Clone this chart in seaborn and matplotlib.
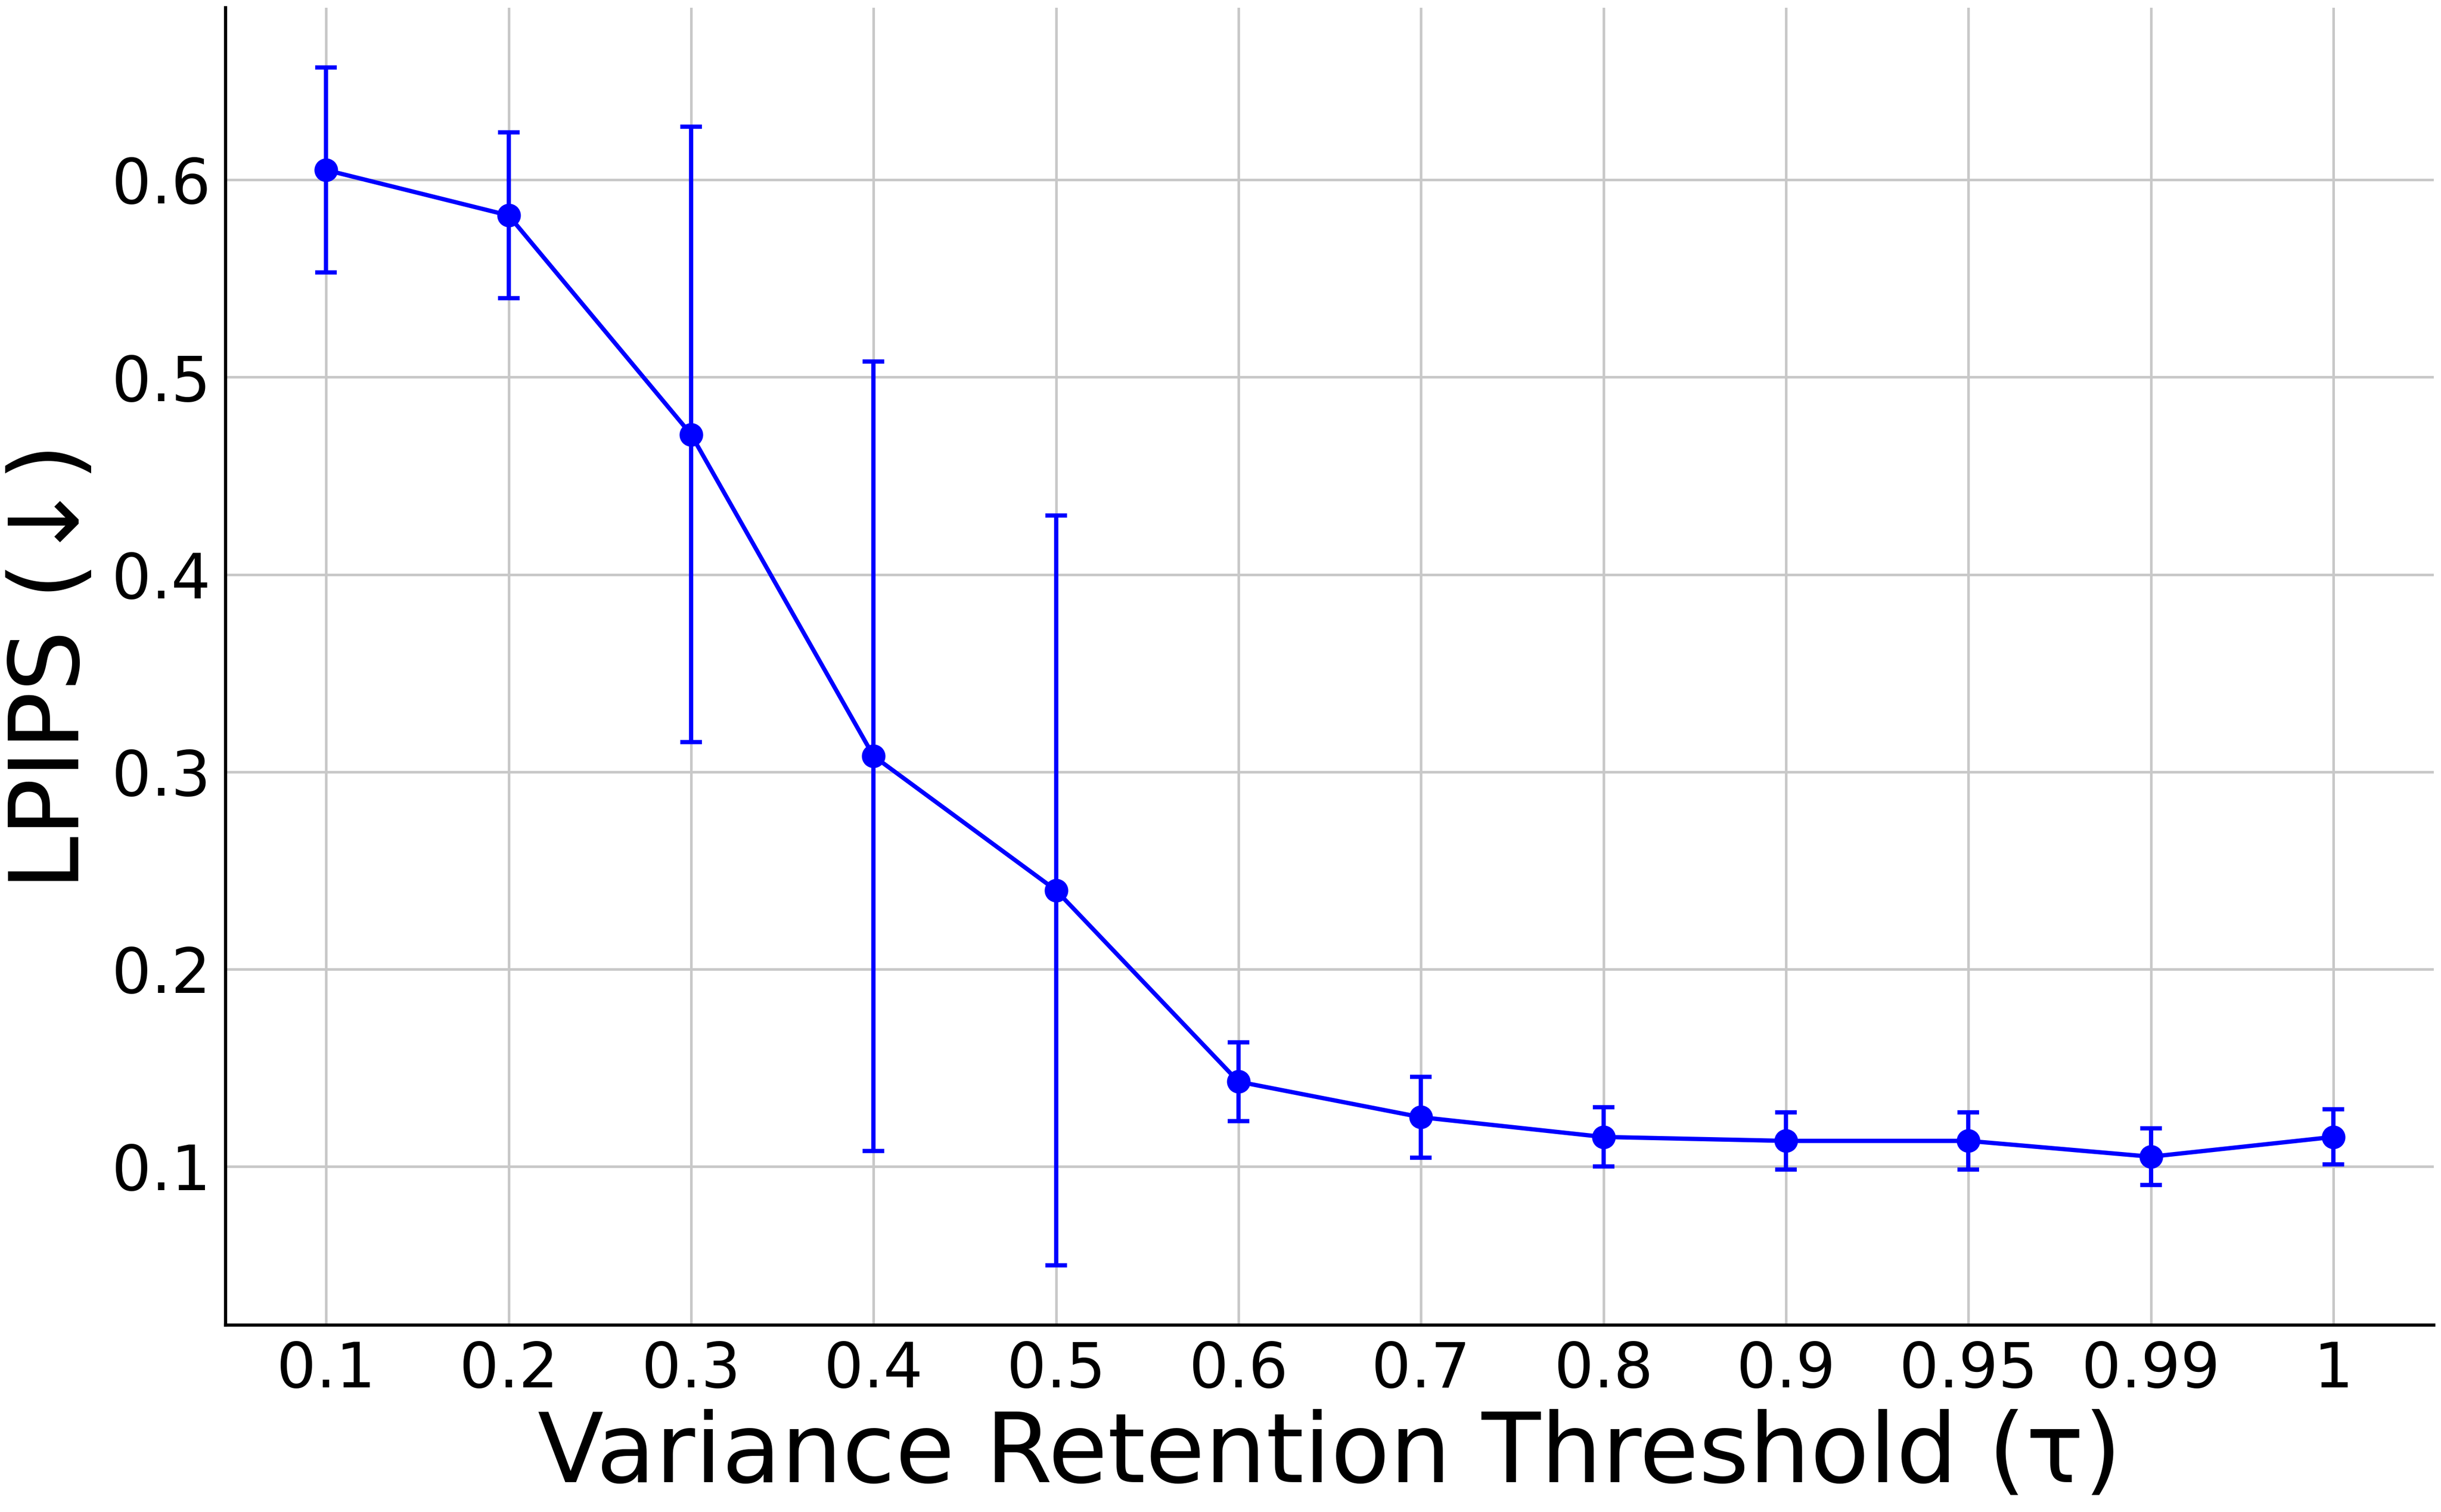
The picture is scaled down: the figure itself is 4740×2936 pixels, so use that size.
import matplotlib
matplotlib.use("Agg")
import matplotlib.pyplot as plt
import seaborn as sns
import numpy as np
import pandas as pd

# values
tau_labels = ["0.1", "0.2", "0.3", "0.4", "0.5", "0.6", "0.7", "0.8", "0.9", "0.95", "0.99", "1"]
lpips_mean = [0.605, 0.582, 0.471, 0.308, 0.240, 0.143, 0.125, 0.115, 0.113, 0.113, 0.105, 0.115]
lpips_std = [0.052, 0.042, 0.156, 0.200, 0.190, 0.020, 0.0205, 0.015, 0.0145, 0.0145, 0.0143, 0.014]

df = pd.DataFrame({"pos": np.arange(len(tau_labels)), "mean": lpips_mean, "std": lpips_std})

sns.set_style("whitegrid")
plt.rcParams["font.family"] = ["DejaVu Sans"]

fig, ax = plt.subplots(figsize=(15.8, 9.787), dpi=300)
fig.subplots_adjust(left=0.0925, right=0.997, top=0.995, bottom=0.1236)

sns.lineplot(data=df, x="pos", y="mean", ax=ax, color="blue", linewidth=2,
             marker="o", markersize=11, markeredgewidth=0, zorder=3)
ax.errorbar(df["pos"], df["mean"], yerr=df["std"], fmt="none", ecolor="blue",
            elinewidth=2, capsize=5, capthick=2, zorder=3)

ax.set_xticks(df["pos"])
ax.set_xticklabels(tau_labels)
ax.set_yticks([0.1, 0.2, 0.3, 0.4, 0.5, 0.6])
ax.tick_params(axis="both", labelsize=29, length=3.5, width=1, color="black", colors="black")
ax.set_xlabel("Variance Retention Threshold (τ)", fontsize=45, labelpad=4, color="black")
ax.set_ylabel("LPIPS (↓)", fontsize=45, labelpad=6, color="black")

ax.grid(True, color="#c8c8c8", linewidth=1.2)
for side in ["top", "right"]:
    ax.spines[side].set_visible(False)
for side in ["left", "bottom"]:
    ax.spines[side].set_color("black")
    ax.spines[side].set_linewidth(1.5)

fig.savefig("out.png", dpi=300)
